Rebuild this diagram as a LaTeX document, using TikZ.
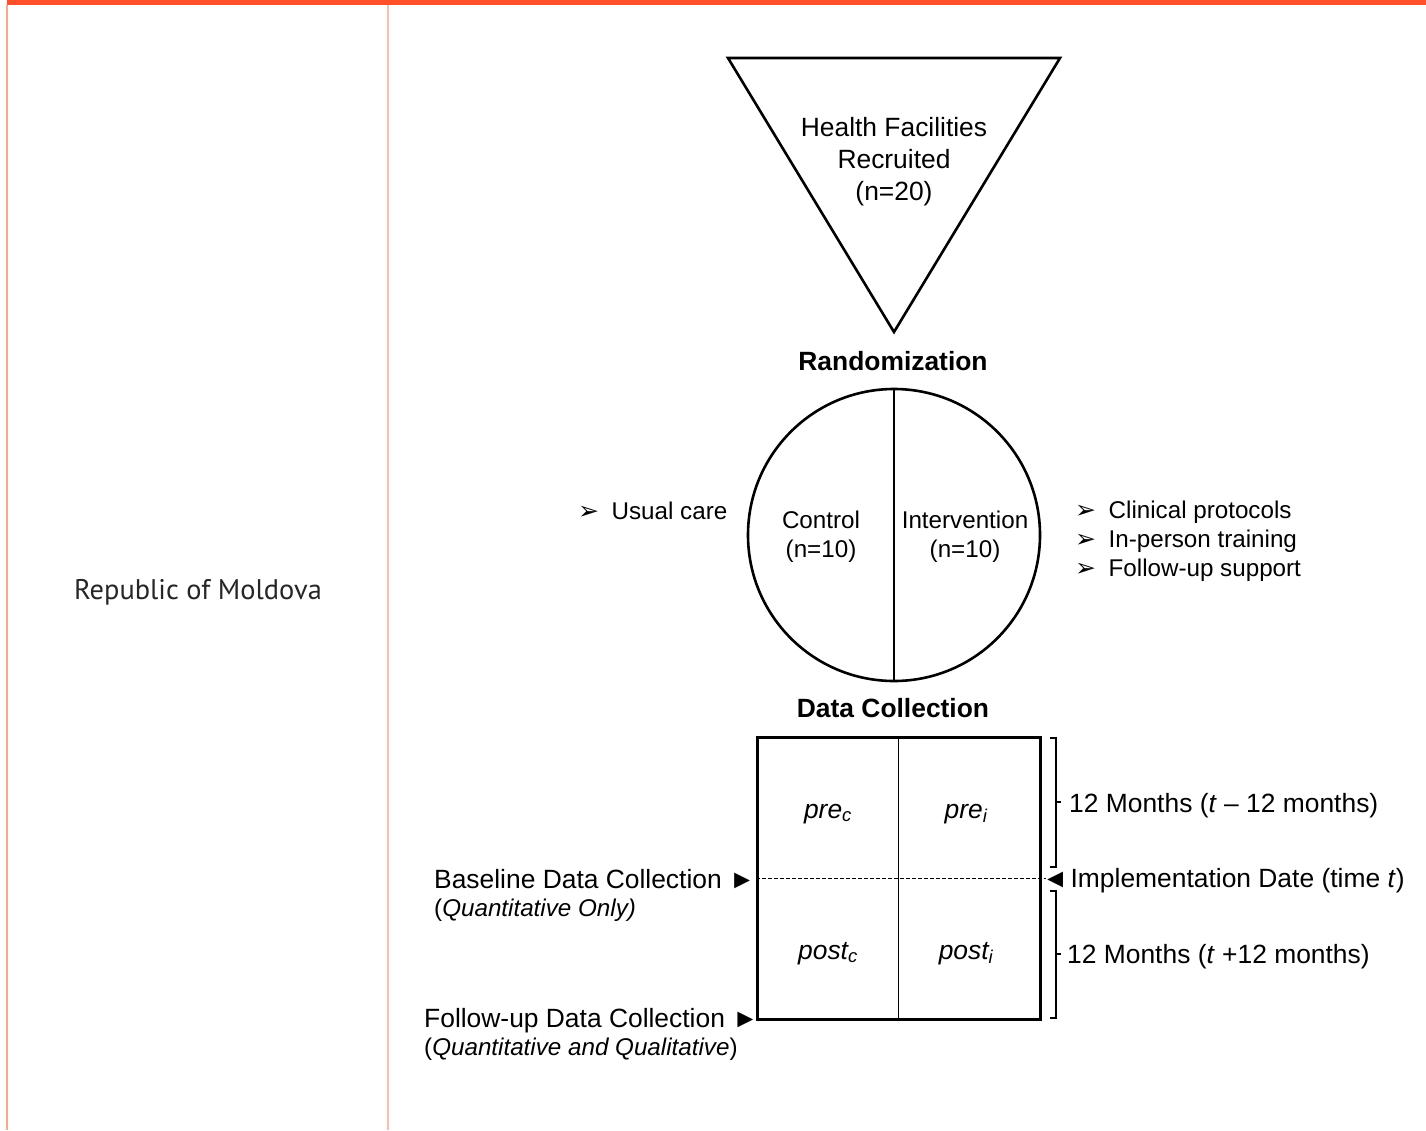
\documentclass[tikz,border=0pt]{standalone}
\usepackage{fontspec}
\setmainfont{Liberation Sans}
\newfontfamily\dejavu{DejaVu Sans}
\newfontfamily\ptsans{PT Sans}
\newcommand\fsz{\fontsize{26.4}{32}\selectfont}
\newcommand\fsm{\fontsize{24.2}{29}\selectfont}
\newcommand\bulitem[1]{{\dejavu\fontsize{25}{29}\selectfont ➢}\hspace{12.5pt}#1}
\definecolor{barorange}{HTML}{FF5029}
\definecolor{lineA}{HTML}{FFA58C}
\definecolor{lineB}{HTML}{FFBCAA}
\definecolor{countrygrey}{HTML}{262626}
\begin{document}
\begin{tikzpicture}[x=1pt,y=-1pt,
  lbl/.style={anchor=base west, inner sep=0pt, font=\fsz},
  slbl/.style={anchor=base west, inner sep=0pt, font=\fsm},
  ctr/.style={anchor=base, inner sep=0pt, font=\fsz},
  sctr/.style={anchor=base, inner sep=0pt, font=\fsm},
  bold ctr/.style={anchor=base, inner sep=0pt, font=\fsz\bfseries},
  heavy/.style={line width=2.6pt},
  light/.style={line width=1.3pt},
  dashline/.style={line width=1pt, dash pattern=on 4pt off 2pt},
]
\useasboundingbox (0,0) rectangle (1426,1130);
% frame
\fill[barorange] (7,0) rectangle (1426,5);
\draw[lineA, line width=1.5pt] (7,5) -- (7,1130);
\draw[lineB, line width=1.5pt] (388,5) -- (388,1130);
\node[anchor=base west, inner sep=0pt, text=countrygrey, font=\ptsans\fontsize{28.4}{32}\selectfont] (country) at (74,599) {Republic of Moldova};

% triangle
\coordinate (tl) at (728,58);
\coordinate (tr) at (1060,58);
\coordinate (tb) at (894,332);
\draw[heavy, line join=miter] (tl) -- (tr) -- (tb) -- cycle;
\node[ctr] (hf1) at (894,136) {Health Facilities};
\node[ctr] (hf2) at (894,168) {Recruited};
\node[ctr] (hf3) at (894,200) {(n=20)};

\node[bold ctr] (rand) at (893,370) {Randomization};

% circle
\node[circle, draw, heavy, minimum size=292pt, inner sep=0pt] (circ) at (894,535) {};
\draw[light] (circ.north) -- (circ.south);
\node[sctr] (c1) at (821,528) {Control};
\node[sctr] (c2) at (821,557) {(n=10)};
\node[sctr] (i1) at (965,528) {Intervention};
\node[sctr] (i2) at (965,557) {(n=10)};

\node[slbl] (usual) at (578,519) {\bulitem{Usual care}};
\node[slbl] (b1) at (1075,518) {\bulitem{Clinical protocols}};
\node[slbl] (b2) at (1075,547) {\bulitem{In-person training}};
\node[slbl] (b3) at (1075,576) {\bulitem{Follow-up support}};

\node[bold ctr] (dc) at (893,717) {Data Collection};

% box
\node[draw, line width=3pt, minimum width=283pt, minimum height=282pt, inner sep=0pt] (box) at (898.5,878) {};
\draw[light] (box.north) -- (box.south);
\coordinate (dashend) at (1046,878);
\draw[dashline] (box.west) -- (dashend);
\node[ctr, font=\fsz\itshape] (prec) at (828,818) {pre\textsubscript{c}};
\node[ctr, font=\fsz\itshape] (prei) at (966,818) {pre\textsubscript{i}};
\node[ctr, font=\fsz\itshape] (postc) at (828,959) {post\textsubscript{c}};
\node[ctr, font=\fsz\itshape] (posti) at (966,959) {post\textsubscript{i}};

% braces
\coordinate (ua) at (1050,738);
\coordinate (ub) at (1056,738);
\coordinate (uc) at (1056,867);
\coordinate (ud) at (1050,867);
\coordinate (um) at (1056,802);
\coordinate (ut) at (1061,802);
\draw[light] (ua) -- (ub) -- (uc) -- (ud);
\draw[light] (um) -- (ut);
\coordinate (la) at (1050,891);
\coordinate (lb) at (1056,891);
\coordinate (lc) at (1056,1018);
\coordinate (ld) at (1050,1018);
\coordinate (lm) at (1056,954);
\coordinate (lt) at (1061,954);
\draw[light] (la) -- (lb) -- (lc) -- (ld);
\draw[light] (lm) -- (lt);

\node[lbl] (pre12) at (1069,812) {12 Months (\textit{t} – 12 months)};
\node[lbl] (impl) at (1042,887) {◄\hspace{2.3pt}Implementation Date (time \textit{t})};
\node[lbl] (post12) at (1067,963) {12 Months (\textit{t} +12 months)};

\node[lbl] (base) at (434,888) {Baseline Data Collection ►};
\node[slbl] (baseq) at (434,916) {(\textit{Quantitative Only)}};
\node[lbl] (fol) at (424,1027) {Follow-up Data Collection ►};
\node[slbl] (folq) at (424,1055) {(\textit{Quantitative and Qualitative})};
\end{tikzpicture}
\end{document}
